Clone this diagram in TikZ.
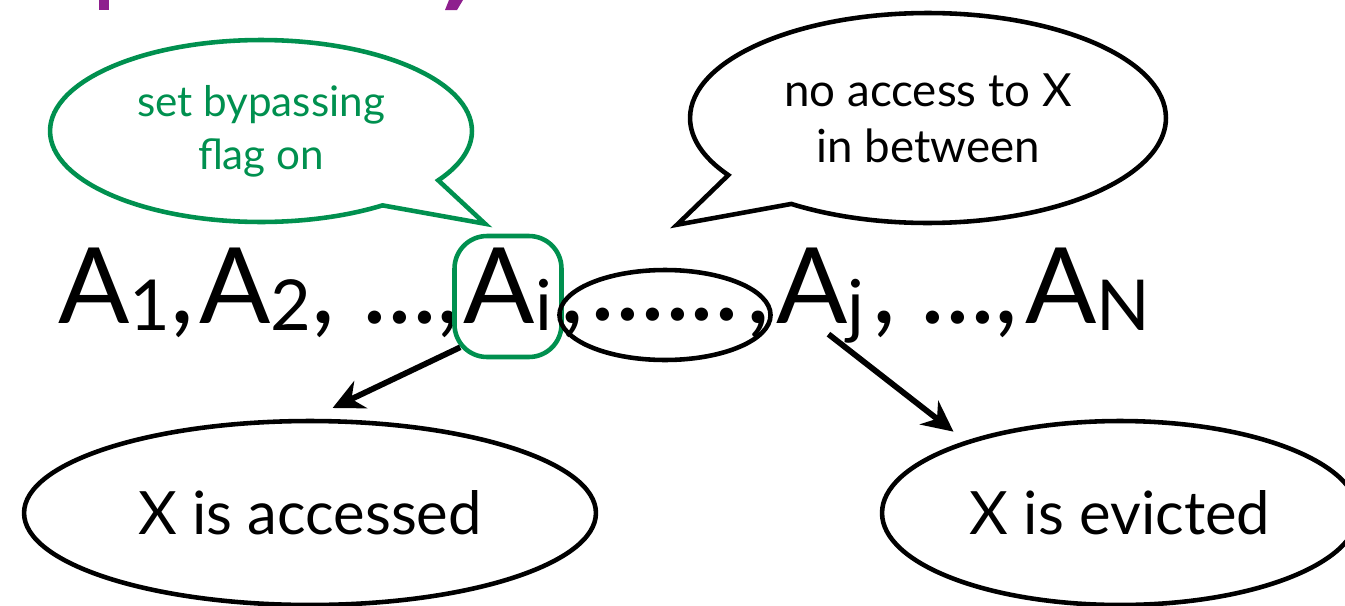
\documentclass[tikz,border=0pt]{standalone}
\usepackage{fontspec}
\setmainfont{Lato}
\usetikzlibrary{arrows.meta, positioning, shapes.geometric, shapes.callouts}
\definecolor{flaggreen}{HTML}{00904F}
\definecolor{titlepurple}{HTML}{8E1F8E}
\newcommand{\seqfont}{\fontsize{60}{60}\selectfont}
\newcommand{\subfont}{\fontsize{40}{40}\selectfont}
\newcommand{\sub}[1]{\raisebox{-4pt}{\subfont #1}}
\tikzset{
  seq/.style={font=\seqfont, inner sep=0pt, anchor=base west},
  bubble/.style={ellipse callout, draw, line width=2.6pt, align=center, inner sep=0pt, callout pointer arc=22},
  oval/.style={ellipse, draw, line width=2.6pt, inner sep=0pt, font=\fontsize{34}{34}\selectfont},
  arr/.style={-{Stealth[length=0.62cm, width=0.6cm]}, line width=3.3pt},
}

\begin{document}
\begin{tikzpicture}[x=0.02cm, y=-0.02cm]
  \clip (0,0) rectangle (1345,605);
  \useasboundingbox (0,0) rectangle (1345,605);

  % cut-off title above
  \fill[titlepurple] (99,0) rectangle (109,10);
  \fill[titlepurple] (449,0) -- (463,0) -- (457,10) -- (445,10) -- cycle;

  % the access sequence
  \node[seq] (a1) at (58,323) {A\sub{1},};
  \node[seq] (a2) at (199,323) {A\sub{2},};
  \node[seq] (e1) at (362,323) {...,};
  \node[seq, anchor=base, draw=flaggreen, line width=2.6pt, rounded corners=0.65cm,
        minimum width=2.14cm, text height=1.74cm, text depth=0.68cm] (ai) at (508,323) {A\sub{i}};
  \node[seq] (c1) at (560,323) {,};
  \node[ellipse, draw, line width=2.6pt, minimum width=3.2cm, minimum height=1.8cm,
        inner sep=0pt, font=\seqfont] (gap) at (665,315) {......};
  \node[seq] (c2) at (746,323) {,};
  \node[seq] (aj) at (776,323) {A\sub{j}};
  \node[seq] (c3) at (872,323) {,};
  \node[seq] (e2) at (920,323) {...,};
  \node[seq] (an) at (1025,323) {A\sub{N}};

  % speech bubbles
  \node[bubble, draw=flaggreen, text=flaggreen, font=\fontsize{24}{30}\selectfont,
        minimum width=8.44cm, minimum height=3.64cm,
        callout absolute pointer={([xshift=-0.46cm,yshift=0.2cm]ai.north)}] (flag) at (261,131) {set bypassing\\flag on};
  \node[bubble, font=\fontsize{26}{32}\selectfont, minimum width=9.52cm, minimum height=4.2cm,
        callout absolute pointer={([xshift=0.24cm,yshift=0.86cm]gap.north)}] (noacc) at (928,118) {no access to X\\in between};

  % outcomes
  \node[oval, minimum width=11.44cm, minimum height=3.68cm] (acc) at (310,513) {X is accessed};
  \node[oval, minimum width=9.52cm, minimum height=3.68cm] (evi) at (1120,513) {X is evicted};

  \draw[arr, shorten >=0.5cm] ([xshift=0.16cm,yshift=0.24cm]ai.south west) -- (acc.north);
  \draw[arr, shorten >=0.3cm] ([xshift=0.16cm,yshift=0.18cm]aj.south) -- (evi.155);
\end{tikzpicture}
\end{document}
